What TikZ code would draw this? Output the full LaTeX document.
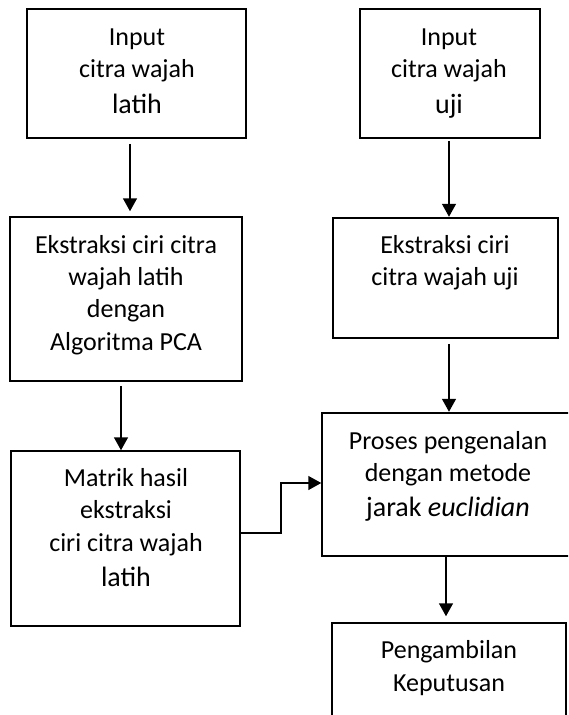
\documentclass[tikz,border=0pt]{standalone}
\usepackage{fontspec}
\setmainfont{Carlito}
\usetikzlibrary{arrows.meta,calc}
\begin{document}
\begin{tikzpicture}[x=1pt,y=-1pt,
  box/.style={draw, line width=1.5pt, inner sep=0pt},
  arr/.style={line width=1.5pt, -{Triangle[width=14pt,length=13pt]}},
  txt/.style={font=\fontsize{26}{32}\selectfont, anchor=base, inner sep=0pt},
  bigtxt/.style={font=\fontsize{28}{34}\selectfont, anchor=base, inner sep=0pt}]
\useasboundingbox (0,0) rectangle (568,715);
\clip (0,0) rectangle (568,715);
% boxes
\node[box, minimum width=219pt, minimum height=129pt] (b1) at (136.5,73.5) {};
\node[box, minimum width=232pt, minimum height=164pt] (b2) at (126,299) {};
\node[box, minimum width=180pt, minimum height=129pt] (b3) at (450,73.5) {};
\node[box, minimum width=225pt, minimum height=120pt] (b4) at (445.5,278) {};
\node[box, minimum width=320pt, minimum height=143pt] (b5) at (482,484.5) {};
\node[box, minimum width=229pt, minimum height=175pt] (b6) at (125.5,538.5) {};
\node[box, minimum width=234pt, minimum height=177pt] (b7) at (449,711.5) {};
% texts
\node[txt] (t1a) at (137,45) {Input};
\node[txt] (t1b) at (137,77) {citra wajah};
\node[bigtxt] (t1c) at (137,113) {latih};
\node[txt] (t3a) at (449,45) {Input};
\node[txt] (t3b) at (449,77) {citra wajah};
\node[bigtxt] (t3c) at (449,113) {uji};
\node[txt] (t2a) at (126,253) {Ekstraksi ciri citra};
\node[txt] (t2b) at (126,285) {wajah latih};
\node[txt] (t2c) at (126,317) {dengan};
\node[txt] (t2d) at (126,350) {Algoritma PCA};
\node[txt] (t4a) at (445,253) {Ekstraksi ciri};
\node[txt] (t4b) at (445,285) {citra wajah uji};
\node[txt] (t5a) at (448,449) {Proses pengenalan};
\node[txt] (t5b) at (448,481) {dengan metode};
\node[bigtxt] (t5c) at (448,516) {jarak \textit{euclidian}};
\node[txt] (t6a) at (126,486) {Matrik hasil};
\node[txt] (t6b) at (126,518) {ekstraksi};
\node[txt] (t6c) at (126,551) {ciri citra wajah};
\node[bigtxt] (t6d) at (126,586) {latih};
\node[txt] (t7a) at (449,658) {Pengambilan};
\node[txt] (t7b) at (449,691) {Keputusan};
% connectors
\draw[arr] ([xshift=-6.5pt,yshift=-5pt]b1.south) -- ([xshift=4pt,yshift=5pt]b2.north);
\draw[arr] ([xshift=-1pt,yshift=-2pt]b3.south) -- ([xshift=3.5pt,yshift=0.5pt]b4.north);
\draw[arr] ([xshift=3.5pt,yshift=-5pt]b4.south) -- ([xshift=-33pt,yshift=0.5pt]b5.north);
\draw[arr] ([xshift=-5pt,yshift=-4pt]b2.south) -- ([xshift=-4.5pt]b6.north);
\coordinate (m) at (281,483);
\draw[arr] ($(b6.east)+(0,-5.5)$) -| (m) -- (m -| b5.west);
\draw[arr] ([xshift=-36pt]b5.south) -- ([xshift=-3pt,yshift=6pt]b7.north);
\end{tikzpicture}
\end{document}
